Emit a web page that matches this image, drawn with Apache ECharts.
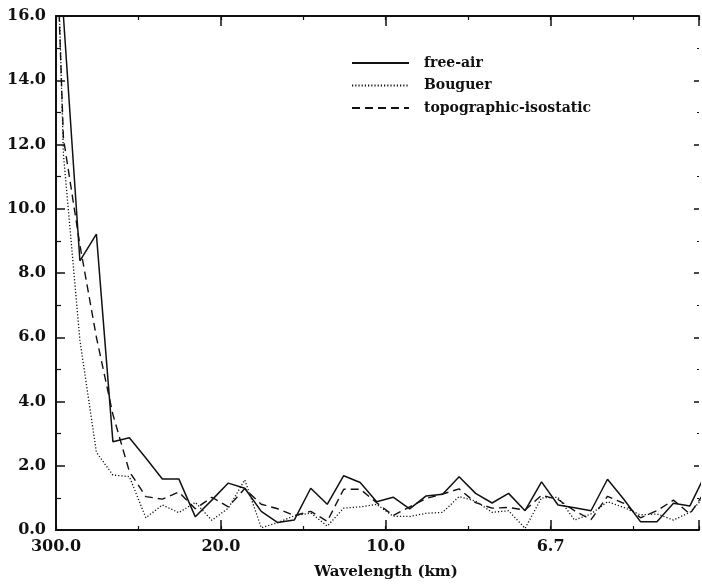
<!DOCTYPE html>
<html><head><meta charset="utf-8">
<script src="https://cdn.jsdelivr.net/npm/echarts@6/dist/echarts.min.js"></script>
<style>html,body{margin:0;padding:0;background:#fff}#c{width:702px;height:586px}</style>
</head><body><div id="c"></div>
<script>
// x positions of the spectral estimates (axis units: one unit per major tick)
const wavenumberPos = [-0.11, 0.09, 0.29, 0.49, 0.69, 0.89, 1.09, 1.29, 1.49, 1.69, 1.89,
  2.09, 2.29, 2.49, 2.69, 2.89, 3.09, 3.29, 3.49, 3.69, 3.89,
  4.09, 4.29, 4.49, 4.69, 4.89, 5.09, 5.29, 5.49, 5.69, 5.89,
  6.09, 6.29, 6.49, 6.69, 6.89, 7.09, 7.29, 7.49, 7.69, 7.89];
const freeAir = [22.0, 16.0, 8.38, 9.21, 2.75, 2.87, 2.24, 1.59, 1.59, 0.41, 0.93,
  1.46, 1.30, 0.58, 0.23, 0.31, 1.30, 0.80, 1.69, 1.48, 0.88,
  1.02, 0.66, 1.06, 1.11, 1.66, 1.14, 0.84, 1.14, 0.60, 1.50,
  0.78, 0.69, 0.60, 1.58, 0.95, 0.26, 0.26, 0.83, 0.75, 1.80];
const bouguer = [30.0, 11.7, 5.91, 2.42, 1.71, 1.66, 0.38, 0.78, 0.54, 0.86, 0.30,
  0.68, 1.56, 0.07, 0.23, 0.44, 0.53, 0.12, 0.68, 0.72, 0.80,
  0.43, 0.42, 0.52, 0.55, 1.04, 0.90, 0.55, 0.60, 0.05, 1.00,
  1.02, 0.31, 0.50, 0.88, 0.70, 0.47, 0.50, 0.31, 0.55, 1.10];
const topoIso = [27.0, 12.2, 8.87, 6.0, 3.6, 1.82, 1.04, 0.96, 1.18, 0.66, 1.02,
  0.72, 1.29, 0.80, 0.66, 0.45, 0.58, 0.27, 1.27, 1.27, 0.85,
  0.45, 0.72, 0.98, 1.12, 1.28, 0.85, 0.68, 0.70, 0.62, 1.08,
  0.95, 0.60, 0.32, 1.05, 0.83, 0.38, 0.60, 0.93, 0.50, 1.26];
const seriesNames = ['free-air', 'Bouguer', 'topographic-isostatic'];
const xTickPos = [0, 2, 4, 6];
const xTickLabels = ['300.0', '20.0', '10.0', '6.7'];
const xAxisName = 'Wavelength (km)';

const font = 'DejaVu Serif';
const ink = '#111';
const pair = arr => wavenumberPos.map((x, i) => [x, arr[i]]);
const xLabel = v => {
  const k = xTickPos.findIndex(p => Math.abs(p - v) < 1e-6);
  return k >= 0 ? xTickLabels[k] : '';
};
const axisLine = {show: true, onZero: false, lineStyle: {color: ink, width: 2}};
const noLine = {show: false, onZero: false};
const baseX = {type: 'value', min: 0, max: 7.8, splitLine: {show: false}};

const chart = echarts.init(document.getElementById('c'), null, {renderer: 'canvas'});
chart.setOption({
  animation: false,
  backgroundColor: '#fff',
  grid: {left: 56, right: 1, top: 16, bottom: 56},
  xAxis: [
    Object.assign({}, baseX, {position: 'bottom', interval: 2, axisLine: axisLine,
      axisTick: {inside: true, length: 10, lineStyle: {color: ink, width: 1.5}},
      axisLabel: {formatter: xLabel, color: ink, fontFamily: font, fontWeight: 'bold', fontSize: 16, margin: 9},
      name: xAxisName, nameLocation: 'middle', nameGap: 35,
      nameTextStyle: {color: ink, fontFamily: font, fontWeight: 'bold', fontSize: 15, padding: [0, 0, 0, 17]}}),
    Object.assign({}, baseX, {position: 'bottom', interval: 1, axisLine: noLine,
      axisTick: {inside: true, length: 4, lineStyle: {color: ink, width: 1.2}}, axisLabel: {show: false}}),
    Object.assign({}, baseX, {position: 'top', interval: 2, axisLine: axisLine,
      axisTick: {inside: true, length: 10, lineStyle: {color: ink, width: 1.5}}, axisLabel: {show: false}}),
    Object.assign({}, baseX, {position: 'top', interval: 1, axisLine: noLine,
      axisTick: {inside: true, length: 4, lineStyle: {color: ink, width: 1.2}}, axisLabel: {show: false}})
  ],
  yAxis: [
    {type: 'value', min: 0, max: 16, interval: 2, position: 'left', axisLine: axisLine,
      axisTick: {inside: true, length: 9, lineStyle: {color: ink, width: 1.5}},
      minorTick: {show: true, splitNumber: 2, length: 5, lineStyle: {color: ink, width: 1.2}},
      axisLabel: {formatter: v => v.toFixed(1), color: ink, fontFamily: font, fontWeight: 'bold', fontSize: 16, margin: 10},
      splitLine: {show: false}, minorSplitLine: {show: false}},
    {type: 'value', min: 0, max: 16, interval: 2, position: 'right', axisLine: noLine,
      axisTick: {show: true, inside: true, length: 5, lineStyle: {color: ink, width: 1.5}},
      minorTick: {show: true, splitNumber: 2, length: 2, lineStyle: {color: ink, width: 1.2}},
      axisLabel: {show: false}, splitLine: {show: false}, minorSplitLine: {show: false}}
  ],
  legend: {
    orient: 'vertical', left: 351, top: 56, padding: 0, itemWidth: 57, itemHeight: 14, itemGap: 8.5,
    data: seriesNames,
    itemStyle: {opacity: 0},
    textStyle: {color: ink, fontFamily: font, fontWeight: 'bold', fontSize: 14, lineHeight: 14, padding: [0, 0, 0, 10]}
  },
  series: [
    {name: seriesNames[0], type: 'line', data: pair(freeAir), symbol: 'none', clip: true,
      lineStyle: {color: ink, width: 1.5, type: 'solid'}, itemStyle: {color: ink}},
    {name: seriesNames[1], type: 'line', data: pair(bouguer), symbol: 'none', clip: true,
      lineStyle: {color: ink, width: 1.3, type: [1.2, 2]}, itemStyle: {color: ink}},
    {name: seriesNames[2], type: 'line', data: pair(topoIso), symbol: 'none', clip: true,
      lineStyle: {color: ink, width: 1.4, type: [8, 5]}, itemStyle: {color: ink}}
  ]
});
</script>
</body></html>
